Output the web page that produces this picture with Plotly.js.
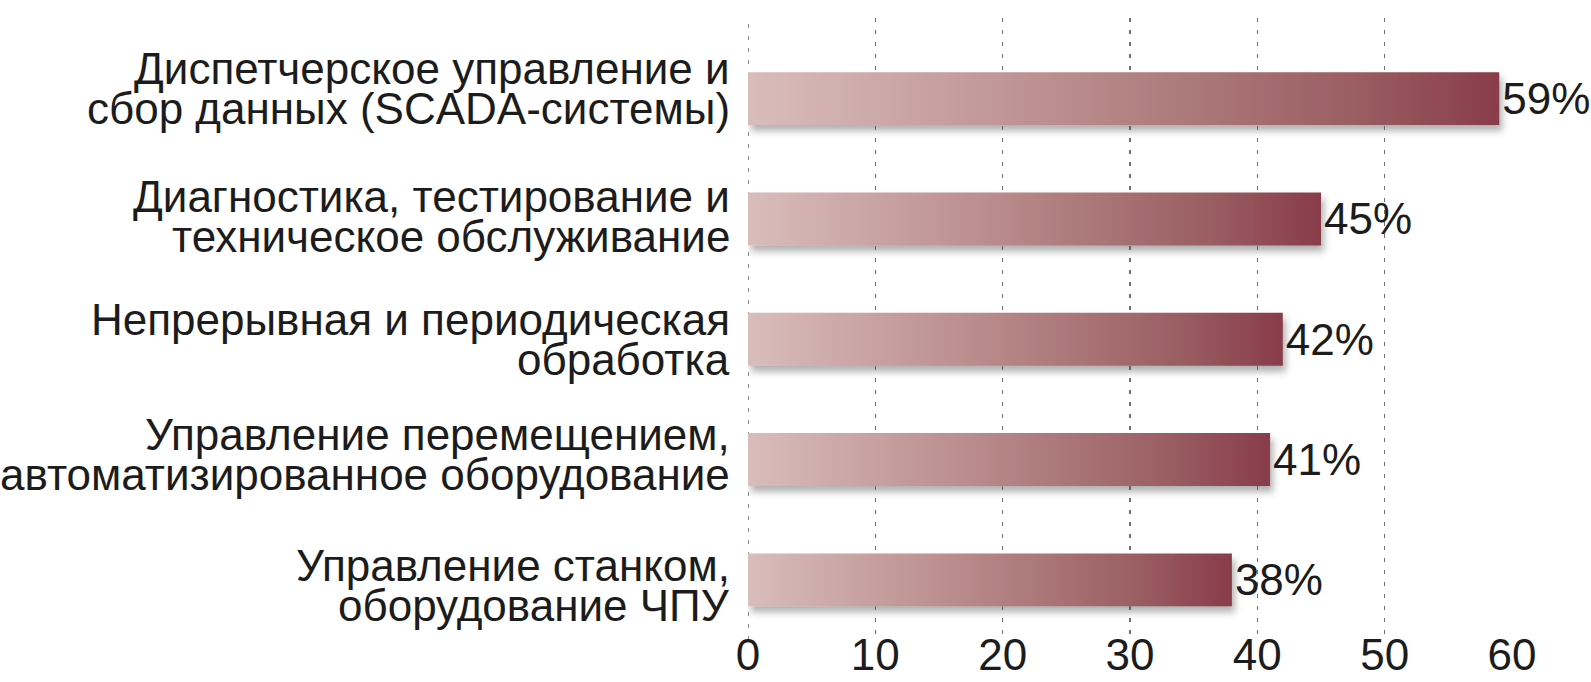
<!DOCTYPE html>
<html>
<head>
<meta charset="utf-8">
<script src="https://cdn.plot.ly/plotly-3.0.1.min.js"></script>
<style>
  html, body { margin: 0; padding: 0; background: #ffffff; }
  #chart { width: 1591px; height: 682px; }
</style>
</head>
<body>
<div id="chart"></div>
<script>
// ---- data ----
const labelLine1 = [
  "Диспетчерское управление и",
  "Диагностика, тестирование и",
  "Непрерывная и периодическая",
  "Управление перемещением,",
  "Управление станком,"
];
const labelLine2 = [
  "сбор данных (SCADA-системы)",
  "техническое обслуживание",
  "обработка",
  "автоматизированное оборудование",
  "оборудование ЧПУ"
];
const categories = labelLine1.map((l, i) => l + " " + labelLine2[i]);
const values = [59, 45, 42, 41, 38];
const xTickVals = [0, 10, 20, 30, 40, 50, 60];
const xTickText = ["0", "10", "20", "30", "40", "50", "60"];

// ---- style ----
const FONT = '"Liberation Sans Narrow", "Arial Narrow", "Liberation Sans", Arial, sans-serif';
const FS = 44;
const TEXT_COLOR = '#1c1c1c';
const GRID_COLOR = '#6f6f6f';
const GRID_DASH = '4px,8px';
const LABEL_NUDGE = [10, 2, 0, 5, -6];   // small vertical offsets (px) of the label blocks

const trace = {
  type: 'bar',
  orientation: 'h',
  x: values,
  y: categories,
  width: 0.44,
  marker: { color: '#a8706f', line: { width: 0 } },
  text: values.map(v => v + '%'),
  textposition: 'outside',
  textfont: { family: FONT, size: FS, color: TEXT_COLOR },
  constraintext: 'none',
  cliponaxis: false,
  hoverinfo: 'none'
};

const annotations = [];
categories.forEach((c, i) => {
  annotations.push({
    x: 0, xref: 'x', y: c, yref: 'y',
    text: labelLine1[i], showarrow: false,
    xanchor: 'right', yanchor: 'middle',
    xshift: -16, yshift: 20 + LABEL_NUDGE[i],
    font: { family: FONT, size: FS, color: TEXT_COLOR }
  });
  annotations.push({
    x: 0, xref: 'x', y: c, yref: 'y',
    text: labelLine2[i], showarrow: false,
    xanchor: 'right', yanchor: 'middle',
    xshift: -16, yshift: -20 + LABEL_NUDGE[i],
    font: { family: FONT, size: FS, color: TEXT_COLOR }
  });
});

const layout = {
  width: 1591,
  height: 682,
  margin: { l: 748, r: 79, t: 18, b: 42, pad: 0 },
  paper_bgcolor: '#ffffff',
  plot_bgcolor: '#ffffff',
  showlegend: false,
  xaxis: {
    range: [0, 60],
    tickvals: xTickVals,
    ticktext: xTickText,
    showgrid: true,
    gridcolor: GRID_COLOR,
    gridwidth: 1.6,
    griddash: GRID_DASH,
    zeroline: false,
    showline: false,
    ticks: '',
    tickfont: { family: FONT, size: 44, color: TEXT_COLOR },
    ticklabelstandoff: -15,
    fixedrange: true
  },
  yaxis: {
    type: 'category',
    categoryorder: 'array',
    categoryarray: categories,
    range: [4.5, -0.67],
    showticklabels: false,
    showgrid: false,
    zeroline: false,
    showline: false,
    ticks: '',
    fixedrange: true
  },
  shapes: [{
    type: 'line', xref: 'x', yref: 'paper',
    x0: xTickVals[0], x1: xTickVals[0], y0: 0, y1: 1,
    line: { color: GRID_COLOR, width: 1.6, dash: GRID_DASH },
    layer: 'below'
  }],
  annotations: annotations
};

function applyGradient(gd) {
  const svg = gd.querySelector('.main-svg');
  if (!svg) return;
  const NS = 'http://www.w3.org/2000/svg';
  if (!svg.querySelector('#barGrad')) {
    const defs = document.createElementNS(NS, 'defs');
    defs.innerHTML =
      '<linearGradient id="barGrad" x1="0" y1="0" x2="1" y2="0">' +
      '<stop offset="0" stop-color="#d9bdbb"/>' +
      '<stop offset="0.45" stop-color="#b8898a"/>' +
      '<stop offset="0.8" stop-color="#9a5f63"/>' +
      '<stop offset="1" stop-color="#893c4a"/>' +
      '</linearGradient>' +
      '<filter id="barShadow" x="-5%" y="-30%" width="112%" height="190%">' +
      '<feDropShadow dx="3" dy="6" stdDeviation="3.5" flood-color="#555" flood-opacity="0.45"/>' +
      '</filter>';
    svg.insertBefore(defs, svg.firstChild);
  }
  gd.querySelectorAll('.barlayer .point path').forEach(p => {
    p.style.fill = 'url(#barGrad)';
    p.setAttribute('filter', 'url(#barShadow)');
  });
}

const gd = document.getElementById('chart');
Plotly.newPlot(gd, [trace], layout, { staticPlot: true, displayModeBar: false })
  .then(() => {
    applyGradient(gd);
    gd.on('plotly_afterplot', () => applyGradient(gd));
  });
</script>
</body>
</html>
